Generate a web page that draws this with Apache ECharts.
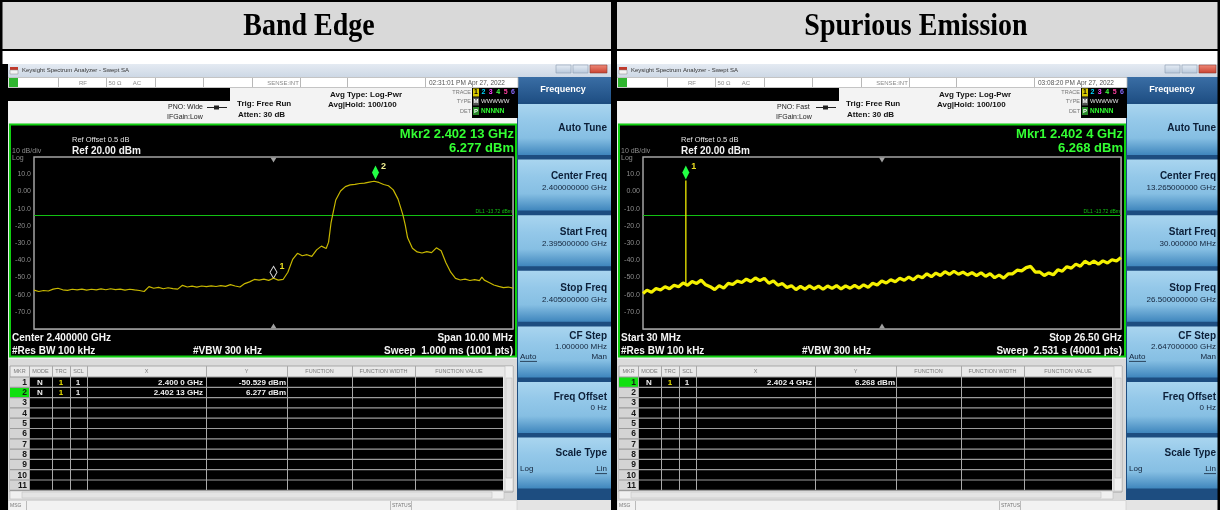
<!DOCTYPE html>
<html><head><meta charset="utf-8">
<script src="https://cdn.jsdelivr.net/npm/echarts@6/dist/echarts.min.js"></script>
<style>html,body{margin:0;padding:0;background:#fff}#c{width:1220px;height:510px}</style>
</head><body><div id="c"></div>
<script>
// ---------------- DATA ----------------
const columnTitles = ['Band Edge', 'Spurious Emission'];
const yTicks = [20, 10, 0, -10, -20, -30, -40, -50, -60, -70, -80];
const yTickLabels = ['', '10.0', '0.00', '-10.0', '-20.0', '-30.0', '-40.0', '-50.0', '-60.0', '-70.0', ''];
const displayLineDbm = -13.72;

// Band edge sweep: [frequency GHz, level dBm]
const bandEdgeTrace = [
 [2.3950,-57.4],[2.3951,-58.2],[2.3952,-57.6],[2.3953,-57.9],[2.3954,-56.8],[2.3955,-56.3],[2.3956,-57.2],[2.3957,-57.5],[2.3958,-56.9],[2.3959,-57.3],
 [2.3960,-56.8],[2.3961,-57.4],[2.3962,-56.9],[2.3963,-57.3],[2.3964,-56.7],[2.3965,-57.2],[2.3966,-56.6],[2.3967,-57.1],[2.3968,-56.8],[2.3969,-57.4],
 [2.3970,-56.9],[2.3971,-57.3],[2.3972,-57.6],[2.3973,-58.2],[2.3974,-55.4],[2.3975,-56.3],[2.3976,-55.8],[2.3977,-56.6],[2.3978,-56.0],[2.3979,-56.5],
 [2.3980,-56.8],[2.3981,-54.6],[2.3982,-55.6],[2.3983,-55.1],[2.3984,-55.7],[2.3985,-55.0],[2.3986,-55.4],[2.3987,-54.9],[2.3988,-55.3],[2.3989,-54.8],
 [2.3990,-55.2],[2.3991,-54.2],[2.3992,-55.0],[2.3993,-55.6],[2.3994,-53.6],[2.3995,-52.6],[2.3996,-51.2],[2.3997,-51.6],[2.3998,-51.0],[2.3999,-51.7],
 [2.4000,-50.5],[2.4001,-51.6],[2.4002,-51.2],[2.4003,-47.0],[2.4004,-39.5],[2.4005,-36.0],[2.4006,-37.4],[2.4007,-36.8],[2.4008,-37.8],[2.4009,-34.0],
 [2.4010,-31.8],[2.4011,-33.2],[2.40115,-29.5],[2.4012,-18.5],[2.40125,-11.6],[2.4013,-5.0],[2.4014,0.2],[2.4015,2.8],[2.4016,3.8],[2.4017,4.1],
 [2.4018,4.6],[2.4019,4.8],[2.4020,5.4],[2.4021,5.9],[2.40214,6.28],[2.4022,5.2],[2.4023,4.0],[2.4024,3.3],[2.4025,0.9],[2.4026,-4.5],
 [2.4027,-13.5],[2.40275,-19.4],[2.4028,-27.0],[2.4029,-33.0],[2.4030,-35.2],[2.4031,-35.8],[2.4032,-35.0],[2.4033,-35.6],[2.4034,-32.8],[2.4035,-34.5],
 [2.4036,-41.5],[2.4037,-47.0],[2.4038,-50.6],[2.4039,-51.5],[2.4040,-51.0],[2.4041,-51.8],[2.4042,-51.3],[2.4043,-51.9],[2.40435,-49.8],[2.4044,-51.6],
 [2.4045,-53.0],[2.4046,-54.4],[2.4047,-55.2],[2.4048,-55.9],[2.4049,-55.6],[2.4050,-56.2]
];
const bandEdgeMarkers = [[2.4000, -50.529], [2.40213, 6.277]];

// Spurious sweep: [frequency GHz, level dBm]
const spurTrace = [
 [0.03,-59.3],[0.25,-57.4],[0.50,-58.6],[0.75,-56.5],[1.00,-57.3],[1.25,-55.4],[1.50,-56.6],[1.75,-54.5],[2.00,-55.4],[2.25,-53.2],
 [2.50,-54.6],[2.75,-52.4],[3.00,-53.5],[3.25,-51.6],[3.50,-54.3],[3.75,-55.4],[4.00,-57.1],[4.25,-54.8],[4.50,-56.2],[4.75,-53.5],
 [5.00,-54.1],[5.25,-52.1],[5.50,-53.0],[5.75,-51.0],[6.00,-52.4],[6.25,-50.3],[6.50,-51.9],[6.75,-50.6],[7.00,-53.4],[7.25,-52.0],
 [7.50,-54.5],[7.75,-53.6],[8.00,-55.9],[8.25,-54.8],[8.50,-57.1],[8.75,-55.2],[9.00,-56.8],[9.25,-54.9],[9.50,-56.6],[9.75,-55.1],
 [10.00,-56.9],[10.25,-55.0],[10.50,-56.4],[10.75,-54.8],[11.00,-56.7],[11.25,-54.9],[11.50,-56.3],[11.75,-54.6],[12.00,-56.2],[12.25,-54.3],
 [12.50,-55.8],[12.75,-53.4],[13.00,-54.4],[13.25,-52.1],[13.50,-53.3],[13.75,-51.4],[14.00,-52.5],[14.25,-50.5],[14.50,-51.7],[14.75,-49.8],
 [15.00,-51.4],[15.25,-49.1],[15.50,-50.2],[15.75,-47.9],[16.00,-49.6],[16.25,-47.5],[16.50,-48.9],[16.75,-46.7],[17.00,-48.3],[17.25,-46.4],
 [17.50,-48.2],[17.75,-46.9],[18.00,-48.6],[18.25,-47.2],[18.50,-49.0],[18.75,-47.3],[19.00,-49.4],[19.25,-47.8],[19.50,-50.2],[19.75,-48.6],
 [20.00,-50.4],[20.25,-48.0],[20.50,-47.9],[20.75,-45.8],[21.00,-46.2],[21.25,-44.3],[21.50,-43.6],[21.75,-46.9],[22.00,-46.8],[22.25,-48.9],
 [22.50,-47.4],[22.75,-48.5],[23.00,-45.6],[23.25,-46.4],[23.50,-43.8],[23.75,-44.6],[24.00,-42.3],[24.25,-43.5],[24.50,-40.6],[24.75,-42.2],
 [25.00,-40.5],[25.25,-42.3],[25.50,-40.4],[25.75,-41.6],[26.00,-39.7],[26.25,-40.5],[26.50,-38.4]
];
const spurSpike = [[2.4024, -53.5], [2.4024, 6.268]];
const spurMarkers = [[2.4024, 6.268]];

const panelTexts = [
 { time:'02:31:01 PM Apr 27, 2022', pno:'PNO: Wide', mkr:'Mkr2 2.402 13 GHz', mkrVal:'6.277 dBm',
   bl:'Center 2.400000 GHz', br:'Span 10.00 MHz', sweep:'Sweep  1.000 ms (1001 pts)',
   rows:[['N','1','1','2.400 0 GHz','-50.529 dBm'],['N','1','1','2.402 13 GHz','6.277 dBm']], active:2,
   center:'2.400000000 GHz', start:'2.395000000 GHz', stop:'2.405000000 GHz', step:'1.000000 MHz' },
 { time:'03:08:20 PM Apr 27, 2022', pno:'PNO: Fast', mkr:'Mkr1 2.402 4 GHz', mkrVal:'6.268 dBm',
   bl:'Start 30 MHz', br:'Stop 26.50 GHz', sweep:'Sweep  2.531 s (40001 pts)',
   rows:[['N','1','1','2.402 4 GHz','6.268 dBm']], active:1,
   center:'13.265000000 GHz', start:'30.000000 MHz', stop:'26.500000000 GHz', step:'2.647000000 GHz' }
];

// ---------------- DRAWING ----------------
const SANS = '"Liberation Sans", Arial, sans-serif';
const els = [];
function rect(x, y, w, h, style, z) { els.push({ type:'rect', silent:true, z: z == null ? -5 : z, shape:{ x, y, width:w, height:h }, style }); }
function text(x, y, s, font, fill, align, z) {
  els.push({ type:'text', silent:true, z: z == null ? 10 : z, x, y,
    style:{ text:s, font: font + ' ' + SANS, fill, textAlign: align || 'left', align: align || 'left', textVerticalAlign:'middle', verticalAlign:'middle' } });
}
function line(x1, y1, x2, y2, stroke, w, z) { els.push({ type:'line', silent:true, z: z == null ? -4 : z, shape:{ x1, y1, x2, y2 }, style:{ stroke, lineWidth: w || 1 } }); }
const vgrad = (stops) => ({ type:'linear', x:0, y:0, x2:0, y2:1, colorStops: stops.map((c, i) => ({ offset: i / (stops.length - 1), color: c })) });

function buildPanel(dx, p) {
  const X = (x) => x + dx;
  const KR = 607; // right edge of soft-key text
  // window background
  rect(X(8), 64, 603, 446, { fill:'#ececec' });
  // title bar
  rect(X(8), 64, 603, 13, { fill: vgrad(['#e4eaf2', '#cdd8e5']) });
  rect(X(10), 67, 8, 3, { fill:'#c0392b' }, -3); rect(X(10), 70, 8, 4, { fill:'#f4f4f4', stroke:'#888', lineWidth:0.5 }, -3);
  text(X(22), 70.5, 'Keysight Spectrum Analyzer - Swept SA', '6px', '#333');
  rect(X(556), 65, 15, 8, { fill: vgrad(['#e6edf5', '#b7c7da']), stroke:'#8a9bb0', lineWidth:0.6 }, -3);
  rect(X(573), 65, 15, 8, { fill: vgrad(['#e6edf5', '#b7c7da']), stroke:'#8a9bb0', lineWidth:0.6 }, -3);
  rect(X(590), 65, 17, 8, { fill: vgrad(['#f08a7a', '#c8402e']), stroke:'#8a3a30', lineWidth:0.6 }, -3);
  // status row
  rect(X(8), 77.5, 510, 10, { fill:'#ffffff', stroke:'#b8b8b8', lineWidth:0.8 }, -3);
  rect(X(9), 78, 9, 9, { fill:'#2fb52f' }, -2);
  [58, 106, 155, 203, 252, 300, 347, 425].forEach(sx => line(X(sx) + 0.5, 78, X(sx) + 0.5, 87, '#b8b8b8', 1, -2));
  text(X(83), 83, 'RF', '6px', '#8a8a8a', 'center');
  text(X(115), 83, '50 Ω', '6px', '#8a8a8a', 'center');
  text(X(137), 83, 'AC', '6px', '#8a8a8a', 'center');
  text(X(283), 83, 'SENSE:INT', '6px', '#8a8a8a', 'center');
  text(X(429), 83, p.time, '6.5px', '#555');
  // info area
  rect(X(8), 88, 510, 35, { fill:'#f3f3f3' });
  rect(X(8), 88, 222, 13, { fill:'#000' }, -3);
  text(X(168), 107, p.pno, '7px', '#222');
  line(X(207), 107.5, X(227), 107.5, '#222', 1, -2);
  rect(X(214), 105.5, 5, 4, { fill:'#222' }, -2);
  text(X(167), 117, 'IFGain:Low', '7px', '#222');
  text(X(237), 104, 'Trig: Free Run', 'bold 8px', '#111');
  text(X(238), 115, 'Atten: 30 dB', 'bold 8px', '#111');
  text(X(330), 94.5, 'Avg Type: Log-Pwr', 'bold 8px', '#111');
  text(X(328), 104.5, 'Avg|Hold: 100/100', 'bold 8px', '#111');
  text(X(471), 92, 'TRACE', '5.5px', '#777', 'right');
  text(X(471), 101.5, 'TYPE', '5.5px', '#777', 'right');
  text(X(471), 111, 'DET', '5.5px', '#777', 'right');
  rect(X(472), 88, 46, 30, { fill:'#000' }, -3);
  rect(X(473), 88.5, 6, 8, { fill:'#d8c800' }, -2);
  const tcol = ['#000', '#00d8ff', '#ff40ff', '#40ff40', '#ff40a0', '#8a6aff'];
  tcol.forEach((c, i) => text(X(476 + i * 7.4), 92.5, String(i + 1), 'bold 7px', c, 'center'));
  rect(X(473), 97.5, 6, 8, { fill:'#555' }, -2);
  text(X(476), 101.5, 'M', 'bold 6px', '#fff', 'center');
  text(X(481), 101.5, 'WWWWW', '6px', '#e8e8e8');
  rect(X(473), 107, 6, 8, { fill:'#2a8a2a' }, -2);
  text(X(476), 111, 'P', 'bold 6px', '#fff', 'center');
  text(X(481), 111, 'NNNNN', 'bold 6.5px', '#30ff30');
  // plot frame
  rect(X(10), 124.5, 506, 232, { fill:'#000', stroke:'#10d010', lineWidth:2 });
  text(X(72), 140, 'Ref Offset 0.5 dB', '7.5px', '#e0e0e0');
  text(X(72), 151, 'Ref 20.00 dBm', 'bold 10px', '#f2f2f2');
  text(X(12), 151.5, '10 dB/div', '7px', '#8c8c8c');
  text(X(12), 158, 'Log', '7px', '#8c8c8c');
  text(X(514), 134, p.mkr, 'bold 13px', '#33ff33', 'right');
  text(X(514), 148.5, p.mkrVal, 'bold 13px', '#33ff33', 'right');
  text(X(12), 338, p.bl, 'bold 10px', '#f5f5f5');
  text(X(12), 351.5, '#Res BW 100 kHz', 'bold 10px', '#f5f5f5');
  text(X(193), 351.5, '#VBW 300 kHz', 'bold 10px', '#f5f5f5');
  text(X(513), 338, p.br, 'bold 10px', '#f5f5f5', 'right');
  text(X(513), 351.5, p.sweep, 'bold 10px', '#f5f5f5', 'right');
  // marker table
  rect(X(8), 359, 509, 141, { fill:'#dadada' });
  rect(X(10), 366, 503, 126, { fill:'#e9e9e9', stroke:'#9a9a9a', lineWidth:0.8 }, -4);
  const cols = [10, 29, 52, 70, 87, 206, 287, 352, 415, 503];
  const heads = ['MKR', 'MODE', 'TRC', 'SCL', 'X', 'Y', 'FUNCTION', 'FUNCTION WIDTH', 'FUNCTION VALUE'];
  heads.forEach((h, i) => text(X((cols[i] + cols[i + 1]) / 2), 371.5, h, '5.5px', '#7a7a7a', 'center'));
  const rowTop = 377, rowH = 10.3;
  rect(X(29), rowTop, 474, rowH * 11, { fill:'#000' }, -3);
  rect(X(10), rowTop, 19, rowH * 11, { fill:'#d4d4d4' }, -3);
  rect(X(10), rowTop + (p.active - 1) * rowH, 19, rowH, { fill:'#10e010' }, -2);
  for (let i = 0; i <= 11; i++) line(X(10), rowTop + i * rowH, X(503), rowTop + i * rowH, '#9c9c9c', 1.2, -1);
  cols.slice(1, -1).forEach(cx => line(X(cx) + 0.5, 366, X(cx) + 0.5, rowTop + rowH * 11, '#a8a8a8', 1, -1));
  for (let i = 0; i < 11; i++) text(X(27), rowTop + i * rowH + 5.5, String(i + 1), 'bold 8.5px', '#151515', 'right');
  p.rows.forEach((r, i) => {
    const yy = rowTop + i * rowH + 5.3;
    text(X(40), yy, r[0], 'bold 8px', '#f0f0f0', 'center');
    text(X(61), yy, r[1], 'bold 8px', '#e8e000', 'center');
    text(X(78), yy, r[2], 'bold 8px', '#f0f0f0', 'center');
    text(X(203), yy, r[3], 'bold 8px', '#f0f0f0', 'right');
    text(X(286), yy, r[4], 'bold 8px', '#f0f0f0', 'right');
  });
  rect(X(505), 366, 8, 125, { fill:'#f0f0f0', stroke:'#bdbdbd', lineWidth:0.6 }, -3);
  rect(X(506), 378, 6, 100, { fill:'#e2e2e2', stroke:'#c4c4c4', lineWidth:0.6 }, -2);
  rect(X(10), 491, 494, 8, { fill:'#f0f0f0', stroke:'#bdbdbd', lineWidth:0.6 }, -3);
  rect(X(22), 492, 470, 6, { fill:'#e4e4e4', stroke:'#c4c4c4', lineWidth:0.6 }, -2);
  rect(X(8), 500.5, 509, 10, { fill:'#f2f2f2', stroke:'#c8c8c8', lineWidth:0.6 }, -3);
  line(X(26) + 0.5, 501, X(26) + 0.5, 510, '#bbb', 1, -2);
  line(X(390) + 0.5, 501, X(390) + 0.5, 510, '#bbb', 1, -2);
  line(X(411) + 0.5, 501, X(411) + 0.5, 510, '#bbb', 1, -2);
  text(X(10), 506, 'MSG', '5px', '#777');
  text(X(392), 506, 'STATUS', '5px', '#777');
  // soft-key panel
  rect(X(517), 77, 96, 423, { fill:'#1d4d80' });
  rect(X(517), 77, 96, 25, { fill: vgrad(['#3a6ea5', '#1f4f84']) }, -4);
  text(X(563), 90, 'Frequency', 'bold 9px', '#ffffff', 'center');
  const keys = [
    { t:'Auto Tune', ty:24 },
    { t:'Center Freq', ty:17, v:p.center, vy:28 },
    { t:'Start Freq', ty:17, v:p.start, vy:29 },
    { t:'Stop Freq', ty:17, v:p.stop, vy:29 },
    { t:'CF Step', ty:10, v:p.step, vy:20, am:['Auto', 'Man'] },
    { t:'Freq Offset', ty:15, v:'0 Hz', vy:26 },
    { t:'Scale Type', ty:16, am:['Log', 'Lin'] }
  ];
  keys.forEach((k, i) => {
    const top = 104 + i * 55.6;
    rect(X(518), top, 94, 51, { fill: vgrad(['#a9d5ef', '#94c8e9', '#86bfe3', '#3f86bd']) }, -4);
    text(X(KR), top + k.ty, k.t, 'bold 10px', '#0c1f38', 'right');
    if (k.v) text(X(KR), top + k.vy, k.v, '8px', '#13233a', 'right');
    if (k.am) {
      const ay = k.v ? top + 30 : top + 31;
      text(X(520), ay, k.am[0], '8px', '#13233a');
      text(X(KR), ay, k.am[1], '8px', '#13233a', 'right');
      const u = (i === 4) ? [520, 537] : [KR - 12, KR];
      line(X(u[0]), ay + 5, X(u[1]), ay + 5, '#13233a', 0.8, -2);
    }
  });
  rect(X(517), 500, 96, 10, { fill:'#e4e4e4' });
}
buildPanel(0, panelTexts[0]);
buildPanel(609, panelTexts[1]);

// table frame & header
rect(0, 0, 1220, 64, { fill:'#ffffff' }, -6);
rect(2, 2, 1216, 47.5, { fill:'#d9d9d9' }, -5);
rect(0, 0, 1220, 2, { fill:'#000' }, 20);
rect(0, 49, 1220, 2, { fill:'#000' }, 20);
rect(0, 0, 2.5, 510, { fill:'#000' }, 20);
rect(0, 64, 8, 446, { fill:'#000' }, 19);
rect(611, 0, 6, 510, { fill:'#000' }, 19);
rect(612, 0, 2.5, 64, { fill:'#000' }, 20);
rect(1217.5, 0, 2.5, 510, { fill:'#000' }, 20);
function headerText(cx, s) {
  els.push({ type:'text', silent:true, z:20, x:cx, y:27, scaleY:1.15,
    style:{ text:s, font:'bold 28px "Liberation Serif", "Times New Roman", serif', fill:'#000', textAlign:'center', align:'center', textVerticalAlign:'middle', verticalAlign:'middle' } });
}
headerText(309, columnTitles[0]);
headerText(916, columnTitles[1]);

// ---------------- CHART ----------------
const gridLine = { color:'#5c5c5c', width:1 };
function divAxis(g) {
  return { gridIndex:g, type:'value', min:0, max:10, interval:1, axisLine:{ show:false }, axisTick:{ show:false },
    axisLabel:{ show:false }, splitLine:{ show:true, lineStyle:gridLine } };
}
function yAx(g) {
  return { gridIndex:g, type:'value', min:-80, max:20, interval:10, axisLine:{ show:false }, axisTick:{ show:false },
    splitLine:{ show:true, lineStyle:gridLine },
    axisLabel:{ color:'#8c8c8c', fontSize:7, fontFamily:'Liberation Sans', margin:3,
      formatter: v => { const i = yTicks.indexOf(Math.round(v)); return i < 0 ? '' : yTickLabels[i]; } } };
}
const dlLine = { silent:true, symbol:['none', 'none'], animation:false,
  lineStyle:{ color:'#12c012', width:1, type:'solid' },
  label:{ show:true, position:'insideEndTop', formatter:'DL1 -13.72 dBm', color:'#12c012', fontSize:5, distance:1 },
  data:[{ yAxis: displayLineDbm }] };
function centerTri(xc) {
  return [
    { coord:[xc, 20], symbol:'triangle', symbolRotate:180, symbolSize:[6, 5], symbolOffset:[0, 3], itemStyle:{ color:'#a0a0a0' }, label:{ show:false } },
    { coord:[xc, -80], symbol:'triangle', symbolSize:[6, 5], symbolOffset:[0, -3], itemStyle:{ color:'#a0a0a0' }, label:{ show:false } }
  ];
}

const option = {
  animation:false,
  backgroundColor:'#ffffff',
  graphic:{ elements: els },
  grid:[
    { left:34, top:157, width:479, height:172, show:true, borderColor:'#a4a4a4', borderWidth:1.5, backgroundColor:'#000', z:1 },
    { left:643, top:157, width:478, height:172, show:true, borderColor:'#a4a4a4', borderWidth:1.5, backgroundColor:'#000', z:1 }
  ],
  xAxis:[
    { gridIndex:0, type:'value', min:2.395, max:2.405, show:false },
    divAxis(0),
    { gridIndex:1, type:'value', min:0.03, max:26.5, show:false },
    divAxis(1)
  ],
  yAxis:[ yAx(0), yAx(1) ],
  series:[
    { type:'line', xAxisIndex:0, yAxisIndex:0, data:bandEdgeTrace, symbol:'none', z:5,
      lineStyle:{ color:'#c8b800', width:1.2 }, markLine: dlLine,
      markPoint:{ silent:true, animation:false, data: [
        { coord:bandEdgeMarkers[0], symbol:'diamond', symbolSize:[7, 12], symbolOffset:[0, -6], itemStyle:{ color:'rgba(0,0,0,0)', borderColor:'#d8d8d8', borderWidth:1 },
          label:{ show:true, formatter:'1', position:[10, -4], color:'#e8dc20', fontSize:9, fontWeight:'bold' } },
        { coord:bandEdgeMarkers[1], symbol:'diamond', symbolSize:[7, 14], symbolOffset:[0, -8], itemStyle:{ color:'#22ff44' },
          label:{ show:true, formatter:'2', position:[9, -4], color:'#f0ee90', fontSize:9, fontWeight:'bold' } }
      ].concat(centerTri(2.400)) } },
    { type:'line', xAxisIndex:2, yAxisIndex:1, data:spurSpike, symbol:'none', z:5,
      lineStyle:{ color:'#e0dc00', width:1.4 } },
    { type:'line', xAxisIndex:2, yAxisIndex:1, data:spurTrace, symbol:'none', z:6,
      lineStyle:{ color:'#f4f000', width:3.2 }, markLine: dlLine,
      markPoint:{ silent:true, animation:false, data: [
        { coord:spurMarkers[0], symbol:'diamond', symbolSize:[7, 14], symbolOffset:[0, -8], itemStyle:{ color:'#22ff44' },
          label:{ show:true, formatter:'1', position:[9, -4], color:'#e8dc20', fontSize:9, fontWeight:'bold' } }
      ].concat(centerTri(13.265)) } }
  ]
};
const chart = echarts.init(document.getElementById('c'), null, { renderer:'canvas' });
chart.setOption(option);
</script>
</body></html>
